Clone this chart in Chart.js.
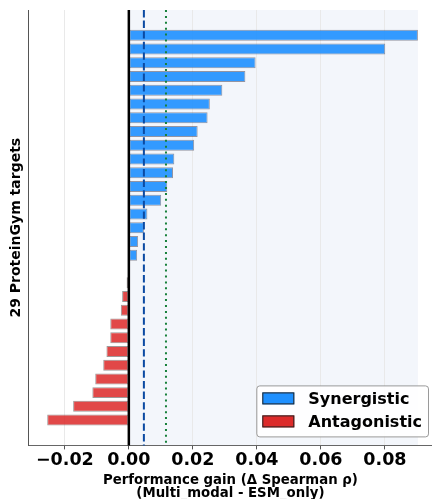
<!DOCTYPE html>
<html>
<head>
<meta charset="utf-8">
<script src="https://cdn.jsdelivr.net/npm/chart.js@4.4.1/dist/chart.umd.min.js"></script>
<style>
  html, body { margin: 0; padding: 0; background: #fff; }
</style>
</head>
<body>
<canvas id="gainChart" width="432" height="499"></canvas>
<script>
// gain per target (Multi_modal - ESM_only), sorted, top bar first
const gains = [
  0.0903, 0.0801, 0.0396, 0.0364, 0.0292, 0.0253, 0.0246, 0.0215, 0.0204, 0.0142,
  0.0138, 0.0120, 0.0101, 0.0058, 0.0047, 0.0029, 0.0026, 0.0002, -0.0007, -0.0021,
  -0.0025, -0.0058, -0.0058, -0.0070, -0.0080, -0.0105, -0.0114, -0.0174, -0.0255
];
const seriesNames = ['Synergistic', 'Antagonistic'];
const xTicks = [-0.02, 0, 0.02, 0.04, 0.06, 0.08];
const medianGain = 0.0047;
const meanGain = 0.0116;
const yTitle = '29 ProteinGym targets';
const xTitle = ['Performance gain (\u0394 Spearman \u03c1)', '(Multi_modal - ESM_only)'];

const FONT = '"DejaVu Sans", sans-serif';

const synergistic = [];
const antagonistic = [];
gains.forEach((g, i) => {
  if (g > 0) synergistic.push({ x: g, y: i });
  else antagonistic.push({ x: g, y: i });
});

// light band from 0 to the best gain, behind everything
const bandPlugin = {
  id: 'band',
  beforeDraw(chart) {
    const { ctx, chartArea, scales } = chart;
    ctx.save();
    ctx.fillStyle = '#fff';
    ctx.fillRect(0, 0, chart.width, chart.height);
    const x0 = scales.x.getPixelForValue(0);
    const x1 = scales.x.getPixelForValue(Math.max(...gains));
    ctx.fillStyle = '#f3f6fb';
    ctx.fillRect(x0, chartArea.top, x1 - x0, chartArea.bottom - chartArea.top);
    ctx.restore();
  }
};

// zero / median / mean reference lines
const refLines = {
  id: 'refLines',
  afterDatasetsDraw(chart) {
    const { ctx, chartArea, scales } = chart;
    const lines = [
      { v: medianGain, color: '#0b4aa2', width: 2, dash: [7.4, 3.2] },
      { v: meanGain, color: '#17803a', width: 2, dash: [2, 3.9] },
      { v: 0, color: '#000', width: 2.5, dash: [] }
    ];
    ctx.save();
    lines.forEach(l => {
      const x = scales.x.getPixelForValue(l.v);
      ctx.beginPath();
      ctx.strokeStyle = l.color;
      ctx.lineWidth = l.width;
      ctx.setLineDash(l.dash);
      ctx.moveTo(x, chartArea.top);
      ctx.lineTo(x, chartArea.bottom);
      ctx.stroke();
    });
    ctx.restore();
  }
};

const boxLegend = {
  id: 'boxLegend',
  afterDraw(chart) {
    const { ctx, chartArea } = chart;
    const items = chart.data.datasets.map(ds => ({ text: ds.label, fill: ds.legendColor }));
    ctx.save();
    ctx.font = 'bold 16px ' + FONT;
    const textW = Math.max(...items.map(it => ctx.measureText(it.text).width));
    const w = 52 + textW + 6;
    const h = 51;
    const x = chartArea.right - 4 - w;
    const y = chartArea.bottom - 9 - h;
    ctx.beginPath();
    ctx.roundRect(x + 0.5, y + 0.5, w, h, 3);
    ctx.fillStyle = 'rgba(255,255,255,0.9)';
    ctx.fill();
    ctx.strokeStyle = '#9a9a9a';
    ctx.lineWidth = 1;
    ctx.stroke();
    items.forEach((it, i) => {
      const cy = y + 13 + i * 23;
      ctx.fillStyle = it.fill;
      ctx.fillRect(x + 6, cy - 6, 32, 12);
      ctx.strokeStyle = '#222';
      ctx.strokeRect(x + 6.5, cy - 5.5, 31, 11);
      ctx.fillStyle = '#000';
      ctx.textBaseline = 'middle';
      ctx.fillText(it.text, x + 52, cy + 1);
    });
    ctx.restore();
  }
};

new Chart(document.getElementById('gainChart'), {
  type: 'bar',
  data: {
    datasets: [
      {
        label: seriesNames[0],
        data: synergistic,
        backgroundColor: 'rgba(30,144,255,0.9)',
        legendColor: '#1e90ff',
        borderColor: 'rgba(70,70,90,0.55)',
        borderWidth: 1,
        borderSkipped: false
      },
      {
        label: seriesNames[1],
        data: antagonistic,
        backgroundColor: 'rgba(220,40,40,0.85)',
        legendColor: '#dc2a2a',
        borderColor: 'rgba(80,70,70,0.55)',
        borderWidth: 1,
        borderSkipped: false
      }
    ]
  },
  options: {
    indexAxis: 'y',
    responsive: false,
    animation: false,
    devicePixelRatio: 1,
    grouped: false,
    barPercentage: 0.8,
    categoryPercentage: 1,
    layout: { padding: { top: 10, left: 4, right: 0, bottom: -1 } },
    plugins: {
      legend: { display: false },
      tooltip: { enabled: false }
    },
    scales: {
      x: {
        type: 'linear',
        min: -0.03125,
        max: 0.0947,
        afterBuildTicks: axis => { axis.ticks = xTicks.map(v => ({ value: v })); },
        grid: { color: '#e9e9e9', lineWidth: 1, tickLength: 4, tickColor: '#555' },
        border: { color: '#666', width: 1 },
        ticks: {
          color: '#000',
          padding: 1,
          maxRotation: 0,
          font: { family: FONT, size: 17.5, weight: 'bold' },
          callback: v => (v < 0 ? '\u2212' : '') + Math.abs(v).toFixed(2)
        },
        title: {
          display: true,
          text: xTitle,
          color: '#000',
          padding: { top: 1, bottom: 0 },
          font: { family: FONT, size: 13.3, weight: 'bold', lineHeight: 1.0 }
        }
      },
      y: {
        type: 'linear',
        reverse: true,
        offset: false,
        min: -1.84,
        max: gains.length - 1 + 1.84,
        grid: { display: true, offset: false, color: 'rgba(0,0,0,0)', drawTicks: false },
        border: { color: '#555', width: 1 },
        ticks: { display: false },
        title: {
          display: true,
          text: yTitle,
          color: '#000',
          padding: { top: 4, bottom: 4 },
          font: { family: FONT, size: 14, weight: 'bold' }
        }
      }
    }
  },
  plugins: [bandPlugin, refLines, boxLegend]
});
</script>
</body>
</html>
